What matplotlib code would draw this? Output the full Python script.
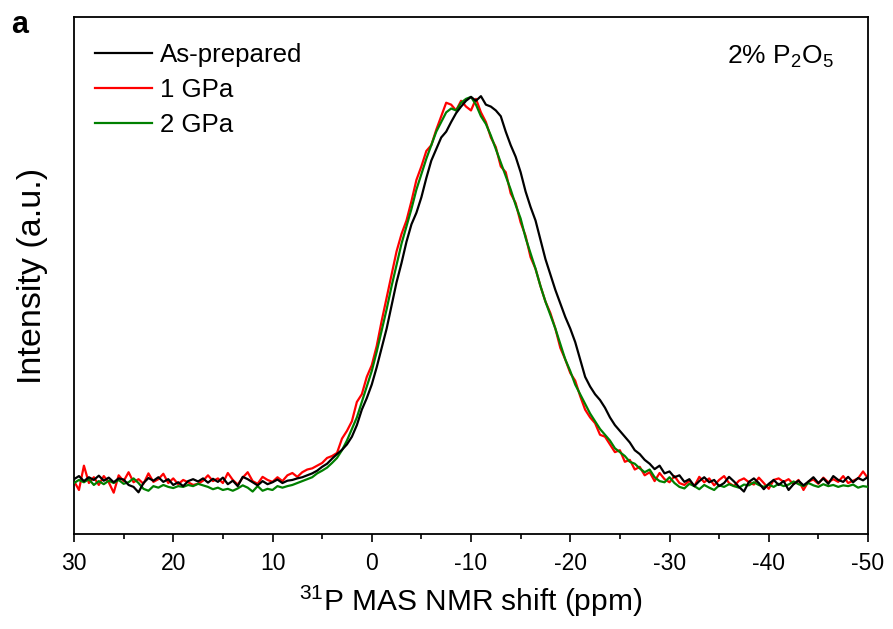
import numpy as np
import matplotlib
matplotlib.use('Agg')
import matplotlib.pyplot as plt
from matplotlib.ticker import MultipleLocator

plt.rcParams['font.family'] = ['Liberation Sans', 'DejaVu Sans']
plt.rcParams['mathtext.fontset'] = 'custom'
plt.rcParams['mathtext.rm'] = 'Liberation Sans'
plt.rcParams['mathtext.it'] = 'Liberation Sans:italic'
plt.rcParams['axes.unicode_minus'] = False

# chemical shift grid (ppm), 0.5 ppm steps from 30 to -50
ppm = np.linspace(30, -50, 161)

as_prepared = [
    1.0, 1.8, 0.5, 1.5, 0.8, 1.9, 0.6, 1.4, 0.2, 1.2,
    0.9, -0.5, -1.0, -2.4, 0.0, 1.3, 0.6, 1.5, 0.3, 1.0,
    -0.5, 0.2, -0.8, 0.5, 1.0, 0.4, 1.2, 0.1, 1.1, 0.3,
    1.4, -0.3, 0.6, -0.8, 1.6, 1.0, 0.2, -0.6, 0.5, -0.3,
    0.2, 0.9, 0.0, 0.6, 0.8, 1.2, 1.5, 2.0, 2.5, 3.2,
    4.2, 5.0, 6.3, 7.5, 8.6, 10.0, 12.0, 15.0, 19.0, 22.0,
    25.5, 30.0, 35.0, 40.0, 46.0, 52.0, 57.0, 62.5, 67.0, 70.0,
    74.0, 79.0, 83.5, 86.5, 89.5, 91.0, 93.5, 95.8, 97.5, 99.0,
    100.0, 99.0, 100.2, 98.0, 97.5, 96.5, 95.0, 91.0, 87.5, 84.5,
    80.5, 75.5, 71.5, 68.0, 63.0, 58.0, 54.0, 50.0, 46.5, 43.0,
    40.0, 36.5, 32.0, 27.5, 25.0, 23.0, 21.5, 19.5, 17.0, 15.0,
    13.5, 12.0, 10.5, 8.5, 7.5, 6.0, 5.0, 3.6, 4.5, 2.5,
    3.0, 1.5, 2.0, 0.3, 1.0, -0.8, 0.5, 1.5, 0.2, 0.8,
    -0.8, 0.0, 1.6, 0.4, -1.0, -2.2, 0.3, 1.2, 0.0, -1.6,
    -0.2, 0.8, -0.5, 0.5, -1.8, -0.3, 0.6, -0.6, 0.4, 1.5,
    0.0, 1.2, -0.2, 1.8, 0.8, 0.3, 1.6, 0.2, 1.3, 0.7,
    1.6,
]

gpa1 = [
    0.5, -1.8, 4.5, 0.0, 1.5, -0.5, 1.8, 0.2, -2.5, 2.0,
    0.5, 2.8, 0.2, 1.0, -0.2, 2.5, 0.3, 1.0, 2.4, 0.0,
    1.2, -0.3, 0.8, 0.2, -0.5, -0.2, 0.6, 2.0, 0.5, 1.2,
    0.0, 2.6, 0.8, -0.4, 1.4, 2.8, 0.5, -0.2, 1.6, 0.8,
    0.3, 1.5, 0.5, 2.0, 2.6, 1.6, 2.8, 3.5, 3.8, 4.5,
    5.2, 6.5, 7.0, 7.8, 11.5, 13.5, 16.0, 21.0, 23.0, 27.5,
    30.5, 35.5, 42.0, 48.0, 54.0, 60.0, 64.5, 68.0, 73.0, 78.5,
    82.0, 86.0, 87.5, 91.5, 95.0, 98.5, 98.0, 96.5, 99.0, 97.5,
    96.5, 99.5, 96.0, 93.5, 89.5, 87.0, 82.0, 80.5, 75.0, 72.5,
    67.5, 64.0, 58.5, 55.5, 51.0, 47.0, 44.0, 40.0, 35.0, 32.0,
    28.5, 26.5, 22.5, 19.0, 17.0, 15.5, 12.5, 12.0, 10.0, 8.0,
    8.5, 5.5, 6.0, 3.5, 4.2, 2.0, 2.8, 0.5, 2.6, 1.0,
    0.2, 1.8, 0.0, -0.5, 0.6, -0.8, 1.6, 0.2, 1.2, -0.6,
    0.8, 1.8, 0.0, -0.8, 0.6, 1.2, 0.2, -0.4, 1.4, 0.0,
    -1.5, 0.8, 1.2, 0.3, 1.0, -0.3, 0.8, -1.8, 0.4, 0.9,
    -0.2, 1.4, 0.2, 1.0, 0.3, 1.8, 0.0, 0.6, 1.2, 3.0,
    1.2,
]

gpa2 = [
    0.0, 0.8, 0.2, 1.0, -0.5, 0.5, -0.3, 0.6, 0.0, 0.8,
    -0.2, 0.2, 1.2, 0.0, -1.5, -2.0, -0.8, -1.2, -0.5, -1.0,
    -1.3, -0.8, -1.0, -0.5, -0.8, -0.2, -0.6, -1.0, -1.6, -1.2,
    -1.8, -1.5, -2.0, -1.4, -0.6, -1.2, -2.2, -0.8, -2.0, -1.5,
    -1.8, -0.8, -1.2, -0.8, -0.5, 0.0, 0.5, 1.0, 1.5, 2.5,
    3.2, 4.0, 5.2, 6.5, 8.5, 11.0, 14.0, 17.0, 21.0, 25.0,
    29.0, 34.0, 39.5, 45.0, 51.0, 56.5, 62.0, 66.5, 71.0, 76.0,
    80.0, 84.0, 87.5, 91.0, 93.5, 96.0, 97.0, 96.5, 98.5, 99.5,
    100.0, 98.0, 95.0, 93.0, 90.0, 86.5, 83.0, 79.5, 76.0, 72.0,
    68.5, 63.5, 59.5, 55.5, 51.0, 47.0, 43.5, 40.0, 36.0, 32.0,
    29.0, 25.5, 23.0, 20.5, 18.0, 16.0, 14.0, 12.5, 11.0, 9.0,
    8.0, 7.0, 5.5, 5.0, 3.8, 2.8, 3.5, 1.5, 0.5, 0.2,
    1.5, 0.0, -1.0, -1.4, -0.2, -0.8, -1.6, -0.5, -1.2, -1.8,
    -0.6, -1.0, -0.3, -0.8, -1.2, -0.4, -0.6, 0.2, -0.5, -1.0,
    -0.4, -1.0, -0.2, -0.8, -0.4, 0.4, -0.3, -0.8, 0.0, -0.6,
    -1.0, -0.3, -0.8, -0.5, -1.0, -0.6, -0.8, -0.4, -1.2, -0.8,
    -1.0,
]

labels = ['As-prepared', '1 GPa', '2 GPa']
colors = ['#000000', '#ff0000', '#008000']
xticks = [30, 20, 10, 0, -10, -20, -30, -40, -50]
xticklabels = ['30', '20', '10', '0', '-10', '-20', '-30', '-40', '-50']

fig = plt.figure(figsize=(8.93, 6.29), dpi=100)
ax = fig.add_axes([74/893, 1-534/629, 794/893, 517/629])

h1, = ax.plot(ppm, gpa1, color=colors[1], lw=1.6, label=labels[1], zorder=2)
h2, = ax.plot(ppm, gpa2, color=colors[2], lw=1.6, label=labels[2], zorder=3)
h0, = ax.plot(ppm, as_prepared, color=colors[0], lw=1.6, label=labels[0], zorder=4)

ax.set_xlim(30, -50)
ax.set_ylim(-13.2, 120.7)
ax.set_xticks(xticks)
ax.set_xticklabels(xticklabels)
ax.xaxis.set_minor_locator(MultipleLocator(5))
ax.tick_params(axis='x', which='major', direction='out', length=6, width=1.2,
               labelsize=16.5, pad=7, top=False)
ax.tick_params(axis='x', which='minor', direction='out', length=3.5, width=1.2, top=False)
ax.set_yticks([])
for s in ax.spines.values():
    s.set_linewidth(1.3)

ax.set_xlabel(r'$^{31}$P MAS NMR shift (ppm)', fontsize=21.5, labelpad=6)
ax.set_ylabel('Intensity (a.u.)', fontsize=24.5, labelpad=19)

leg = ax.legend(handles=[h0, h1, h2], loc='upper left',
                bbox_to_anchor=((95-74)/794, (534-43)/517), frameon=False,
                fontsize=18.6, handlelength=2.2, handletextpad=0.32,
                labelspacing=0.42, borderpad=0, borderaxespad=0)

fig.text(727/893, 1-64/629, r'2% P$_2$O$_5$', fontsize=19, ha='left', va='baseline')
fig.text(11/893, 1-33/629, 'a', fontsize=22, fontweight='bold', ha='left', va='baseline')

fig.savefig('out.png', dpi=100)
